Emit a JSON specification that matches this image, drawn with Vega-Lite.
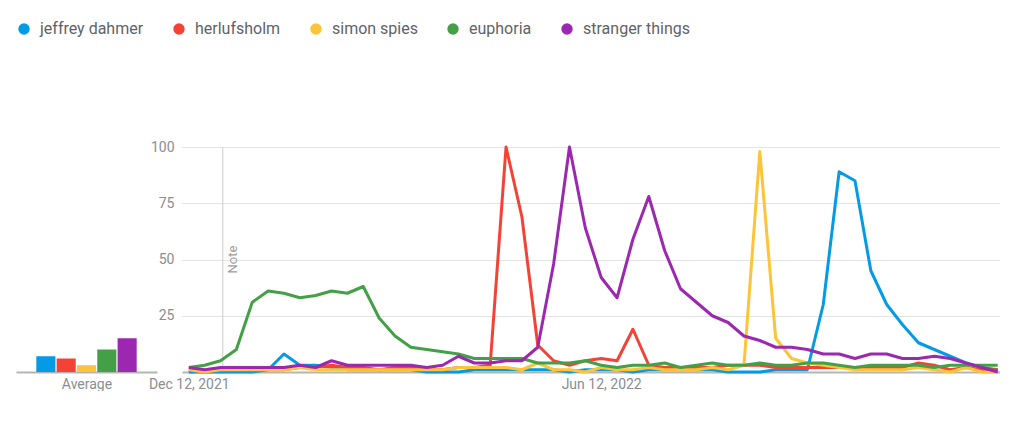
{
  "$schema": "https://vega.github.io/schema/vega-lite/v6.json",
  "background": "white",
  "padding": {"left": 16, "top": 21, "right": 0, "bottom": 0},
  "datasets": {
    "trend": [
      {"week": "2021-12-12", "term": "jeffrey dahmer", "value": 0}, {"week": "2021-12-19", "term": "jeffrey dahmer", "value": 0},
      {"week": "2021-12-26", "term": "jeffrey dahmer", "value": 0}, {"week": "2022-01-02", "term": "jeffrey dahmer", "value": 0},
      {"week": "2022-01-09", "term": "jeffrey dahmer", "value": 0}, {"week": "2022-01-16", "term": "jeffrey dahmer", "value": 1},
      {"week": "2022-01-23", "term": "jeffrey dahmer", "value": 8}, {"week": "2022-01-30", "term": "jeffrey dahmer", "value": 3},
      {"week": "2022-02-06", "term": "jeffrey dahmer", "value": 3}, {"week": "2022-02-13", "term": "jeffrey dahmer", "value": 2},
      {"week": "2022-02-20", "term": "jeffrey dahmer", "value": 1}, {"week": "2022-02-27", "term": "jeffrey dahmer", "value": 1},
      {"week": "2022-03-06", "term": "jeffrey dahmer", "value": 1}, {"week": "2022-03-13", "term": "jeffrey dahmer", "value": 1},
      {"week": "2022-03-20", "term": "jeffrey dahmer", "value": 1}, {"week": "2022-03-27", "term": "jeffrey dahmer", "value": 0},
      {"week": "2022-04-03", "term": "jeffrey dahmer", "value": 0}, {"week": "2022-04-10", "term": "jeffrey dahmer", "value": 0},
      {"week": "2022-04-17", "term": "jeffrey dahmer", "value": 1}, {"week": "2022-04-24", "term": "jeffrey dahmer", "value": 1},
      {"week": "2022-05-01", "term": "jeffrey dahmer", "value": 1}, {"week": "2022-05-08", "term": "jeffrey dahmer", "value": 1},
      {"week": "2022-05-15", "term": "jeffrey dahmer", "value": 1}, {"week": "2022-05-22", "term": "jeffrey dahmer", "value": 1},
      {"week": "2022-05-29", "term": "jeffrey dahmer", "value": 0}, {"week": "2022-06-05", "term": "jeffrey dahmer", "value": 1},
      {"week": "2022-06-12", "term": "jeffrey dahmer", "value": 1}, {"week": "2022-06-19", "term": "jeffrey dahmer", "value": 1},
      {"week": "2022-06-26", "term": "jeffrey dahmer", "value": 0}, {"week": "2022-07-03", "term": "jeffrey dahmer", "value": 1},
      {"week": "2022-07-10", "term": "jeffrey dahmer", "value": 1}, {"week": "2022-07-17", "term": "jeffrey dahmer", "value": 1},
      {"week": "2022-07-24", "term": "jeffrey dahmer", "value": 1}, {"week": "2022-07-31", "term": "jeffrey dahmer", "value": 1},
      {"week": "2022-08-07", "term": "jeffrey dahmer", "value": 0}, {"week": "2022-08-14", "term": "jeffrey dahmer", "value": 0},
      {"week": "2022-08-21", "term": "jeffrey dahmer", "value": 0}, {"week": "2022-08-28", "term": "jeffrey dahmer", "value": 1},
      {"week": "2022-09-04", "term": "jeffrey dahmer", "value": 1}, {"week": "2022-09-11", "term": "jeffrey dahmer", "value": 1},
      {"week": "2022-09-18", "term": "jeffrey dahmer", "value": 30}, {"week": "2022-09-25", "term": "jeffrey dahmer", "value": 89},
      {"week": "2022-10-02", "term": "jeffrey dahmer", "value": 85}, {"week": "2022-10-09", "term": "jeffrey dahmer", "value": 45},
      {"week": "2022-10-16", "term": "jeffrey dahmer", "value": 30}, {"week": "2022-10-23", "term": "jeffrey dahmer", "value": 21},
      {"week": "2022-10-30", "term": "jeffrey dahmer", "value": 13}, {"week": "2022-11-06", "term": "jeffrey dahmer", "value": 10},
      {"week": "2022-11-13", "term": "jeffrey dahmer", "value": 7}, {"week": "2022-11-20", "term": "jeffrey dahmer", "value": 4},
      {"week": "2022-11-27", "term": "jeffrey dahmer", "value": 2}, {"week": "2022-12-04", "term": "jeffrey dahmer", "value": 1},

      {"week": "2021-12-12", "term": "herlufsholm", "value": 1}, {"week": "2021-12-19", "term": "herlufsholm", "value": 0},
      {"week": "2021-12-26", "term": "herlufsholm", "value": 1}, {"week": "2022-01-02", "term": "herlufsholm", "value": 1},
      {"week": "2022-01-09", "term": "herlufsholm", "value": 1}, {"week": "2022-01-16", "term": "herlufsholm", "value": 1},
      {"week": "2022-01-23", "term": "herlufsholm", "value": 1}, {"week": "2022-01-30", "term": "herlufsholm", "value": 2},
      {"week": "2022-02-06", "term": "herlufsholm", "value": 2}, {"week": "2022-02-13", "term": "herlufsholm", "value": 3},
      {"week": "2022-02-20", "term": "herlufsholm", "value": 2}, {"week": "2022-02-27", "term": "herlufsholm", "value": 2},
      {"week": "2022-03-06", "term": "herlufsholm", "value": 1}, {"week": "2022-03-13", "term": "herlufsholm", "value": 2},
      {"week": "2022-03-20", "term": "herlufsholm", "value": 2}, {"week": "2022-03-27", "term": "herlufsholm", "value": 1},
      {"week": "2022-04-03", "term": "herlufsholm", "value": 1}, {"week": "2022-04-10", "term": "herlufsholm", "value": 2},
      {"week": "2022-04-17", "term": "herlufsholm", "value": 2}, {"week": "2022-04-24", "term": "herlufsholm", "value": 3},
      {"week": "2022-05-01", "term": "herlufsholm", "value": 100}, {"week": "2022-05-08", "term": "herlufsholm", "value": 69},
      {"week": "2022-05-15", "term": "herlufsholm", "value": 12}, {"week": "2022-05-22", "term": "herlufsholm", "value": 5},
      {"week": "2022-05-29", "term": "herlufsholm", "value": 3}, {"week": "2022-06-05", "term": "herlufsholm", "value": 5},
      {"week": "2022-06-12", "term": "herlufsholm", "value": 6}, {"week": "2022-06-19", "term": "herlufsholm", "value": 5},
      {"week": "2022-06-26", "term": "herlufsholm", "value": 19}, {"week": "2022-07-03", "term": "herlufsholm", "value": 3},
      {"week": "2022-07-10", "term": "herlufsholm", "value": 2}, {"week": "2022-07-17", "term": "herlufsholm", "value": 2},
      {"week": "2022-07-24", "term": "herlufsholm", "value": 2}, {"week": "2022-07-31", "term": "herlufsholm", "value": 2},
      {"week": "2022-08-07", "term": "herlufsholm", "value": 3}, {"week": "2022-08-14", "term": "herlufsholm", "value": 3},
      {"week": "2022-08-21", "term": "herlufsholm", "value": 3}, {"week": "2022-08-28", "term": "herlufsholm", "value": 2},
      {"week": "2022-09-04", "term": "herlufsholm", "value": 2}, {"week": "2022-09-11", "term": "herlufsholm", "value": 2},
      {"week": "2022-09-18", "term": "herlufsholm", "value": 2}, {"week": "2022-09-25", "term": "herlufsholm", "value": 2},
      {"week": "2022-10-02", "term": "herlufsholm", "value": 2}, {"week": "2022-10-09", "term": "herlufsholm", "value": 2},
      {"week": "2022-10-16", "term": "herlufsholm", "value": 2}, {"week": "2022-10-23", "term": "herlufsholm", "value": 2},
      {"week": "2022-10-30", "term": "herlufsholm", "value": 4}, {"week": "2022-11-06", "term": "herlufsholm", "value": 3},
      {"week": "2022-11-13", "term": "herlufsholm", "value": 1}, {"week": "2022-11-20", "term": "herlufsholm", "value": 2},
      {"week": "2022-11-27", "term": "herlufsholm", "value": 1}, {"week": "2022-12-04", "term": "herlufsholm", "value": 1},

      {"week": "2021-12-12", "term": "simon spies", "value": 1}, {"week": "2021-12-19", "term": "simon spies", "value": 0},
      {"week": "2021-12-26", "term": "simon spies", "value": 1}, {"week": "2022-01-02", "term": "simon spies", "value": 1},
      {"week": "2022-01-09", "term": "simon spies", "value": 1}, {"week": "2022-01-16", "term": "simon spies", "value": 1},
      {"week": "2022-01-23", "term": "simon spies", "value": 1}, {"week": "2022-01-30", "term": "simon spies", "value": 2},
      {"week": "2022-02-06", "term": "simon spies", "value": 1}, {"week": "2022-02-13", "term": "simon spies", "value": 1},
      {"week": "2022-02-20", "term": "simon spies", "value": 1}, {"week": "2022-02-27", "term": "simon spies", "value": 1},
      {"week": "2022-03-06", "term": "simon spies", "value": 1}, {"week": "2022-03-13", "term": "simon spies", "value": 1},
      {"week": "2022-03-20", "term": "simon spies", "value": 1}, {"week": "2022-03-27", "term": "simon spies", "value": 1},
      {"week": "2022-04-03", "term": "simon spies", "value": 1}, {"week": "2022-04-10", "term": "simon spies", "value": 2},
      {"week": "2022-04-17", "term": "simon spies", "value": 2}, {"week": "2022-04-24", "term": "simon spies", "value": 2},
      {"week": "2022-05-01", "term": "simon spies", "value": 2}, {"week": "2022-05-08", "term": "simon spies", "value": 1},
      {"week": "2022-05-15", "term": "simon spies", "value": 4}, {"week": "2022-05-22", "term": "simon spies", "value": 1},
      {"week": "2022-05-29", "term": "simon spies", "value": 1}, {"week": "2022-06-05", "term": "simon spies", "value": 0},
      {"week": "2022-06-12", "term": "simon spies", "value": 2}, {"week": "2022-06-19", "term": "simon spies", "value": 1},
      {"week": "2022-06-26", "term": "simon spies", "value": 1}, {"week": "2022-07-03", "term": "simon spies", "value": 2},
      {"week": "2022-07-10", "term": "simon spies", "value": 1}, {"week": "2022-07-17", "term": "simon spies", "value": 1},
      {"week": "2022-07-24", "term": "simon spies", "value": 1}, {"week": "2022-07-31", "term": "simon spies", "value": 2},
      {"week": "2022-08-07", "term": "simon spies", "value": 1}, {"week": "2022-08-14", "term": "simon spies", "value": 3},
      {"week": "2022-08-21", "term": "simon spies", "value": 98}, {"week": "2022-08-28", "term": "simon spies", "value": 15},
      {"week": "2022-09-04", "term": "simon spies", "value": 6}, {"week": "2022-09-11", "term": "simon spies", "value": 4},
      {"week": "2022-09-18", "term": "simon spies", "value": 3}, {"week": "2022-09-25", "term": "simon spies", "value": 2},
      {"week": "2022-10-02", "term": "simon spies", "value": 1}, {"week": "2022-10-09", "term": "simon spies", "value": 1},
      {"week": "2022-10-16", "term": "simon spies", "value": 1}, {"week": "2022-10-23", "term": "simon spies", "value": 1},
      {"week": "2022-10-30", "term": "simon spies", "value": 2}, {"week": "2022-11-06", "term": "simon spies", "value": 1},
      {"week": "2022-11-13", "term": "simon spies", "value": 0}, {"week": "2022-11-20", "term": "simon spies", "value": 2},
      {"week": "2022-11-27", "term": "simon spies", "value": 0}, {"week": "2022-12-04", "term": "simon spies", "value": 0},

      {"week": "2021-12-12", "term": "euphoria", "value": 2}, {"week": "2021-12-19", "term": "euphoria", "value": 3},
      {"week": "2021-12-26", "term": "euphoria", "value": 5}, {"week": "2022-01-02", "term": "euphoria", "value": 10},
      {"week": "2022-01-09", "term": "euphoria", "value": 31}, {"week": "2022-01-16", "term": "euphoria", "value": 36},
      {"week": "2022-01-23", "term": "euphoria", "value": 35}, {"week": "2022-01-30", "term": "euphoria", "value": 33},
      {"week": "2022-02-06", "term": "euphoria", "value": 34}, {"week": "2022-02-13", "term": "euphoria", "value": 36},
      {"week": "2022-02-20", "term": "euphoria", "value": 35}, {"week": "2022-02-27", "term": "euphoria", "value": 38},
      {"week": "2022-03-06", "term": "euphoria", "value": 24}, {"week": "2022-03-13", "term": "euphoria", "value": 16},
      {"week": "2022-03-20", "term": "euphoria", "value": 11}, {"week": "2022-03-27", "term": "euphoria", "value": 10},
      {"week": "2022-04-03", "term": "euphoria", "value": 9}, {"week": "2022-04-10", "term": "euphoria", "value": 8},
      {"week": "2022-04-17", "term": "euphoria", "value": 6}, {"week": "2022-04-24", "term": "euphoria", "value": 6},
      {"week": "2022-05-01", "term": "euphoria", "value": 6}, {"week": "2022-05-08", "term": "euphoria", "value": 6},
      {"week": "2022-05-15", "term": "euphoria", "value": 4}, {"week": "2022-05-22", "term": "euphoria", "value": 4},
      {"week": "2022-05-29", "term": "euphoria", "value": 4}, {"week": "2022-06-05", "term": "euphoria", "value": 5},
      {"week": "2022-06-12", "term": "euphoria", "value": 3}, {"week": "2022-06-19", "term": "euphoria", "value": 2},
      {"week": "2022-06-26", "term": "euphoria", "value": 3}, {"week": "2022-07-03", "term": "euphoria", "value": 3},
      {"week": "2022-07-10", "term": "euphoria", "value": 4}, {"week": "2022-07-17", "term": "euphoria", "value": 2},
      {"week": "2022-07-24", "term": "euphoria", "value": 3}, {"week": "2022-07-31", "term": "euphoria", "value": 4},
      {"week": "2022-08-07", "term": "euphoria", "value": 3}, {"week": "2022-08-14", "term": "euphoria", "value": 3},
      {"week": "2022-08-21", "term": "euphoria", "value": 4}, {"week": "2022-08-28", "term": "euphoria", "value": 3},
      {"week": "2022-09-04", "term": "euphoria", "value": 3}, {"week": "2022-09-11", "term": "euphoria", "value": 4},
      {"week": "2022-09-18", "term": "euphoria", "value": 4}, {"week": "2022-09-25", "term": "euphoria", "value": 3},
      {"week": "2022-10-02", "term": "euphoria", "value": 2}, {"week": "2022-10-09", "term": "euphoria", "value": 3},
      {"week": "2022-10-16", "term": "euphoria", "value": 3}, {"week": "2022-10-23", "term": "euphoria", "value": 3},
      {"week": "2022-10-30", "term": "euphoria", "value": 3}, {"week": "2022-11-06", "term": "euphoria", "value": 2},
      {"week": "2022-11-13", "term": "euphoria", "value": 3}, {"week": "2022-11-20", "term": "euphoria", "value": 3},
      {"week": "2022-11-27", "term": "euphoria", "value": 3}, {"week": "2022-12-04", "term": "euphoria", "value": 3},

      {"week": "2021-12-12", "term": "stranger things", "value": 2}, {"week": "2021-12-19", "term": "stranger things", "value": 1},
      {"week": "2021-12-26", "term": "stranger things", "value": 2}, {"week": "2022-01-02", "term": "stranger things", "value": 2},
      {"week": "2022-01-09", "term": "stranger things", "value": 2}, {"week": "2022-01-16", "term": "stranger things", "value": 2},
      {"week": "2022-01-23", "term": "stranger things", "value": 2}, {"week": "2022-01-30", "term": "stranger things", "value": 3},
      {"week": "2022-02-06", "term": "stranger things", "value": 2}, {"week": "2022-02-13", "term": "stranger things", "value": 5},
      {"week": "2022-02-20", "term": "stranger things", "value": 3}, {"week": "2022-02-27", "term": "stranger things", "value": 3},
      {"week": "2022-03-06", "term": "stranger things", "value": 3}, {"week": "2022-03-13", "term": "stranger things", "value": 3},
      {"week": "2022-03-20", "term": "stranger things", "value": 3}, {"week": "2022-03-27", "term": "stranger things", "value": 2},
      {"week": "2022-04-03", "term": "stranger things", "value": 3}, {"week": "2022-04-10", "term": "stranger things", "value": 7},
      {"week": "2022-04-17", "term": "stranger things", "value": 4}, {"week": "2022-04-24", "term": "stranger things", "value": 4},
      {"week": "2022-05-01", "term": "stranger things", "value": 5}, {"week": "2022-05-08", "term": "stranger things", "value": 5},
      {"week": "2022-05-15", "term": "stranger things", "value": 11}, {"week": "2022-05-22", "term": "stranger things", "value": 48},
      {"week": "2022-05-29", "term": "stranger things", "value": 100}, {"week": "2022-06-05", "term": "stranger things", "value": 64},
      {"week": "2022-06-12", "term": "stranger things", "value": 42}, {"week": "2022-06-19", "term": "stranger things", "value": 33},
      {"week": "2022-06-26", "term": "stranger things", "value": 59}, {"week": "2022-07-03", "term": "stranger things", "value": 78},
      {"week": "2022-07-10", "term": "stranger things", "value": 54}, {"week": "2022-07-17", "term": "stranger things", "value": 37},
      {"week": "2022-07-24", "term": "stranger things", "value": 31}, {"week": "2022-07-31", "term": "stranger things", "value": 25},
      {"week": "2022-08-07", "term": "stranger things", "value": 22}, {"week": "2022-08-14", "term": "stranger things", "value": 16},
      {"week": "2022-08-21", "term": "stranger things", "value": 14}, {"week": "2022-08-28", "term": "stranger things", "value": 11},
      {"week": "2022-09-04", "term": "stranger things", "value": 11}, {"week": "2022-09-11", "term": "stranger things", "value": 10},
      {"week": "2022-09-18", "term": "stranger things", "value": 8}, {"week": "2022-09-25", "term": "stranger things", "value": 8},
      {"week": "2022-10-02", "term": "stranger things", "value": 6}, {"week": "2022-10-09", "term": "stranger things", "value": 8},
      {"week": "2022-10-16", "term": "stranger things", "value": 8}, {"week": "2022-10-23", "term": "stranger things", "value": 6},
      {"week": "2022-10-30", "term": "stranger things", "value": 6}, {"week": "2022-11-06", "term": "stranger things", "value": 7},
      {"week": "2022-11-13", "term": "stranger things", "value": 6}, {"week": "2022-11-20", "term": "stranger things", "value": 4},
      {"week": "2022-11-27", "term": "stranger things", "value": 2}, {"week": "2022-12-04", "term": "stranger things", "value": 0}
    ],
    "average": [
      {"term": "jeffrey dahmer", "value": 7},
      {"term": "herlufsholm", "value": 6},
      {"term": "simon spies", "value": 3},
      {"term": "euphoria", "value": 10},
      {"term": "stranger things", "value": 15}
    ]
  },
  "spacing": 25,
  "bounds": "flush",
  "resolve": {"scale": {"color": "shared"}},
  "hconcat": [
    {
      "width": 141,
      "height": 225,
      "data": {"name": "average"},
      "mark": {"type": "bar"},
      "encoding": {
        "x": {
          "field": "term",
          "type": "nominal",
          "sort": ["jeffrey dahmer", "herlufsholm", "simon spies", "euphoria", "stranger things"],
          "scale": {"paddingInner": 0.06, "paddingOuter": 1.58},
          "axis": {"title": "Average", "labels": false, "ticks": false, "titlePadding": 5}
        },
        "y": {"field": "value", "type": "quantitative", "scale": {"domain": [0, 100], "nice": false}, "axis": null},
        "color": {
          "field": "term",
          "type": "nominal",
          "scale": {
            "domain": ["jeffrey dahmer", "herlufsholm", "simon spies", "euphoria", "stranger things"],
            "range": ["#039be5", "#f44336", "#fdc437", "#43a047", "#9c27b0"]
          }
        }
      }
    },
    {
      "width": 818,
      "height": 225,
      "layer": [
        {
          "data": {"values": [{"day": "2021-12-27"}]},
          "mark": {"type": "rule", "color": "#cccccc", "strokeWidth": 1},
          "encoding": {"x": {"field": "day", "type": "temporal"}}
        },
        {
          "data": {"values": [{"day": "2021-12-27", "pos": 50, "label": "Note"}]},
          "mark": {"type": "text", "angle": 270, "baseline": "top", "dy": 4, "fontSize": 13, "color": "#9e9e9e"},
          "encoding": {
            "x": {"field": "day", "type": "temporal"},
            "y": {"field": "pos", "type": "quantitative"},
            "text": {"field": "label"}
          }
        },
        {
          "data": {"name": "trend"},
          "mark": {"type": "line", "strokeWidth": 3, "strokeJoin": "round"},
          "encoding": {
            "x": {
              "field": "week",
              "type": "temporal",
              "scale": {"type": "utc", "domain": [{"year": 2021, "month": 12, "date": 9, "utc": true}, {"year": 2022, "month": 12, "date": 5, "utc": true}]},
              "axis": {
                "title": null,
                "values": [{"year": 2021, "month": 12, "date": 12, "utc": true}, {"year": 2022, "month": 6, "date": 12, "utc": true}],
                "format": "%b %-d, %Y",
                "grid": false,
                "ticks": false,
                "labelFlush": false,
                "labelPadding": 5
              }
            },
            "y": {
              "field": "value",
              "type": "quantitative",
              "scale": {"domain": [0, 100], "nice": false},
              "axis": {"title": null, "values": [25, 50, 75, 100], "domain": false, "ticks": false, "labelPadding": 8}
            },
            "color": {
              "field": "term",
              "type": "nominal",
              "scale": {
                "domain": ["jeffrey dahmer", "herlufsholm", "simon spies", "euphoria", "stranger things"],
                "range": ["#039be5", "#f44336", "#fdc437", "#43a047", "#9c27b0"]
              }
            }
          }
        }
      ]
    }
  ],
  "config": {
    "font": "Roboto",
    "view": {"stroke": null},
    "axis": {
      "labelFont": "Roboto",
      "labelFontSize": 14,
      "labelColor": "#8a8d91",
      "titleFont": "Roboto",
      "titleFontSize": 14,
      "titleFontWeight": "normal",
      "titleColor": "#8a8d91",
      "domainColor": "#b5b5b5",
      "domainWidth": 2,
      "gridColor": "#e4e4e4",
      "gridWidth": 1
    },
    "legend": {
      "orient": "top",
      "direction": "horizontal",
      "title": null,
      "offset": 103,
      "symbolType": "circle",
      "symbolSize": 130,
      "symbolStrokeWidth": 0,
      "labelFont": "Roboto",
      "labelFontSize": 16,
      "labelColor": "#5f6368",
      "labelOffset": 8,
      "columnPadding": 27
    }
  }
}
